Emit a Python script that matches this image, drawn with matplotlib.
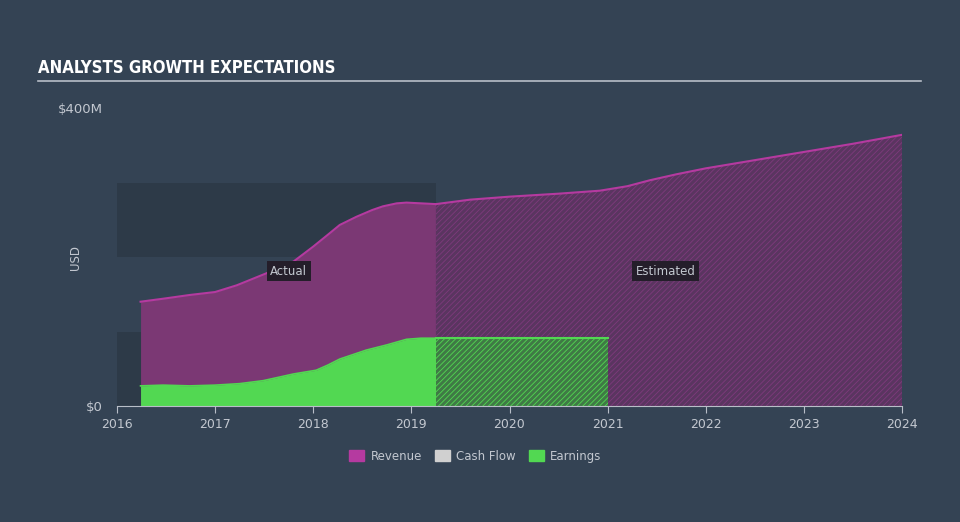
import matplotlib.pyplot as plt
from matplotlib.patches import Patch

# revenue, USD millions
rev_act_x = [2016.24, 2016.47, 2016.74, 2017.0, 2017.22, 2017.52, 2017.8, 2018.0,
             2018.15, 2018.27, 2018.44, 2018.6, 2018.71, 2018.85, 2018.95, 2019.1, 2019.25]
rev_act_y = [140, 144, 149, 153, 162, 178, 194, 214, 230, 243, 254, 263, 268, 272, 273, 272, 271]
rev_est_x = [2019.25, 2019.6, 2020.0, 2020.5, 2020.92, 2021.2, 2021.43, 2021.7, 2022.0,
             2022.5, 2023.0, 2023.5, 2024.0]
rev_est_y = [271, 277, 281, 285, 289, 295, 303, 311, 319, 330, 341, 352, 364]

# earnings, USD millions
earn_act_x = [2016.24, 2016.47, 2016.74, 2017.0, 2017.25, 2017.49, 2017.8, 2018.03,
              2018.15, 2018.27, 2018.54, 2018.75, 2018.95, 2019.1, 2019.25]
earn_act_y = [27, 28, 27, 28, 30, 34, 43, 48, 55, 63, 75, 82, 89.5, 91, 91]
earn_est_x = [2019.25, 2021.0]
earn_est_y = [91.5, 91.5]

years = list(range(2016, 2025))

bg = '#344354'
band = '#2d3a48'
txt = '#c3c8d0'
rev_line = '#b53aa0'
rev_fill = '#7b3874'
rev_est_fill = '#5a3560'
green = '#52d852'

plt.rcParams['hatch.linewidth'] = 0.6
fig = plt.figure(figsize=(9.6, 5.22), dpi=100, facecolor=bg)
ax = fig.add_axes([117/960, 1-406/522, 785/960, 298/522])
ax.set_facecolor(bg)
ax.set_xlim(2016, 2024)
ax.set_ylim(0, 400)

# darker background bands in the actual period
for lo, hi in [(0, 100), (200, 300)]:
    ax.fill_between([2016, 2019.25], lo, hi, color=band, lw=0, zorder=0)

ax.fill_between(rev_act_x, 0, rev_act_y, color=rev_fill, lw=0, zorder=1)
ax.plot(rev_act_x, rev_act_y, color=rev_line, lw=1.5, zorder=3)
ax.fill_between(rev_est_x, 0, rev_est_y, facecolor=rev_est_fill, edgecolor='#7e3a7c',
                hatch='//////', lw=0, zorder=1)
ax.plot(rev_est_x, rev_est_y, color=rev_line, lw=1.5, zorder=3)

ax.fill_between(earn_act_x, 0, earn_act_y, color=green, lw=0, zorder=2)
ax.plot(earn_act_x, earn_act_y, color=green, lw=1.2, zorder=3)
ax.fill_between(earn_est_x, 0, earn_est_y, facecolor='#3f7a45', edgecolor=green,
                hatch='//////', lw=0, zorder=2)
ax.plot(earn_est_x, earn_est_y, color=green, lw=1.5, zorder=3)

for s in ['top', 'right', 'left']:
    ax.spines[s].set_visible(False)
ax.spines['bottom'].set_color('#b8bec8')
ax.set_xticks(years)
ax.set_xticklabels([str(y) for y in years])
ax.set_yticks([0, 400])
ax.set_yticklabels(['$0', '$400M'])
ax.tick_params(axis='x', colors='#b8bec8', labelcolor=txt, labelsize=9, length=5, direction='out')
ax.tick_params(axis='y', length=0, labelcolor=txt, labelsize=9.5, pad=10)
ax.set_ylabel('USD', color=txt, fontsize=8.5)
ax.yaxis.set_label_coords(-0.045, 0.5)

box = dict(boxstyle='square,pad=0.3', fc='#241e2a', ec='none')
ax.text(2017.75, 181, 'Actual', color=txt, fontsize=8.5, ha='center', va='center', bbox=box, zorder=5)
ax.text(2021.59, 181, 'Estimated', color=txt, fontsize=8.5, ha='center', va='center', bbox=box, zorder=5)

fig.text(38/960, 1-68/522, 'ANALYSTS GROWTH EXPECTATIONS', color='white', fontsize=12,
         fontweight='bold', fontstretch='condensed', family=['DejaVu Sans'], va='center')
fig.add_artist(plt.Line2D([38/960, 921/960], [1-81/522, 1-81/522], color='#b8bec8', lw=1.2))

handles = [Patch(color=rev_line, label='Revenue'), Patch(color='#d0d0d0', label='Cash Flow'),
           Patch(color=green, label='Earnings')]
leg = fig.legend(handles=handles, loc='center', bbox_to_anchor=(0.495, 1-456/522), ncol=3,
                 frameon=False, fontsize=8.5, handlelength=1.3, handleheight=1.0,
                 columnspacing=1.1, handletextpad=0.5)
for t in leg.get_texts():
    t.set_color(txt)

fig.savefig('out.png', dpi=100, facecolor=bg)
